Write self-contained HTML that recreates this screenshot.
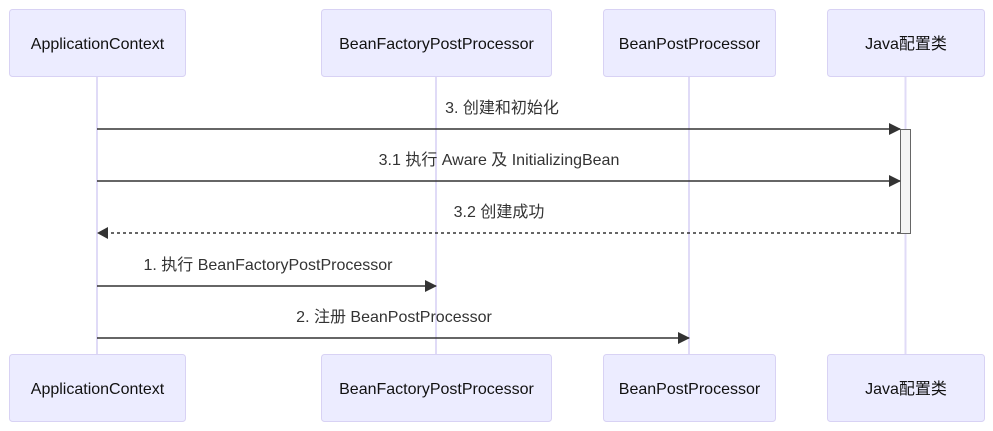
<!DOCTYPE html>
<html><head><meta charset="utf-8"><style>
html,body{margin:0;padding:0;background:#fff;width:993px;height:431px;overflow:hidden}
text{font-family:"Liberation Sans","Noto Sans CJK SC",sans-serif;font-size:16px}
</style></head><body>
<svg width="993" height="431" viewBox="0 0 993 431" xmlns="http://www.w3.org/2000/svg">
<defs>
<marker id="a" markerWidth="12" markerHeight="12" refX="11" refY="6" orient="auto" markerUnits="userSpaceOnUse"><path d="M0,0 L12,6 L0,12 z" fill="#333"/></marker>
</defs>
<g stroke="#e0dbf7" stroke-width="2">
<line x1="97" y1="77" x2="97" y2="354"/>
<line x1="436" y1="77" x2="436" y2="354"/>
<line x1="689" y1="77" x2="689" y2="354"/>
<line x1="905.5" y1="77" x2="905.5" y2="354"/>
</g>
<g fill="#ececff" stroke="#d8d2f4" stroke-width="1">
<rect x="9.5" y="9.5" width="176" height="67" rx="3"/>
<rect x="321.5" y="9.5" width="230" height="67" rx="3"/>
<rect x="603.5" y="9.5" width="172" height="67" rx="3"/>
<rect x="827.5" y="9.5" width="157" height="67" rx="3"/>
<rect x="9.5" y="354.5" width="176" height="67" rx="3"/>
<rect x="321.5" y="354.5" width="230" height="67" rx="3"/>
<rect x="603.5" y="354.5" width="172" height="67" rx="3"/>
<rect x="827.5" y="354.5" width="157" height="67" rx="3"/>
</g>
<g text-anchor="middle" fill="#111">
<text x="97.5" y="49">ApplicationContext</text>
<text x="436.5" y="49">BeanFactoryPostProcessor</text>
<text x="689.5" y="49">BeanPostProcessor</text>
<text x="906" y="49">Java配置类</text>
<text x="97.5" y="394">ApplicationContext</text>
<text x="436.5" y="394">BeanFactoryPostProcessor</text>
<text x="689.5" y="394">BeanPostProcessor</text>
<text x="906" y="394">Java配置类</text>
</g>
<rect x="900.5" y="129.5" width="10" height="104" fill="#f4f4f4" stroke="#666" stroke-width="1"/>
<g stroke="#333" stroke-width="1.5" fill="none">
<line x1="97" y1="129" x2="900" y2="129" marker-end="url(#a)"/>
<line x1="97" y1="181" x2="900" y2="181" marker-end="url(#a)"/>
<line x1="900" y1="233" x2="106" y2="233" stroke-dasharray="3,3"/>
<line x1="97" y1="286" x2="436" y2="286" marker-end="url(#a)"/>
<line x1="97" y1="338" x2="689" y2="338" marker-end="url(#a)"/>
</g>
<path d="M108,227 L97,233 L108,239 z" fill="#333"/>
<g text-anchor="middle" fill="#333">
<text x="502" y="113">3. 创建和初始化</text>
<text x="499" y="165">3.1 执行 Aware 及 InitializingBean</text>
<text x="499" y="217">3.2 创建成功</text>
<text x="268" y="270">1. 执行 BeanFactoryPostProcessor</text>
<text x="394" y="322">2. 注册 BeanPostProcessor</text>
</g>
</svg>
</body></html>
